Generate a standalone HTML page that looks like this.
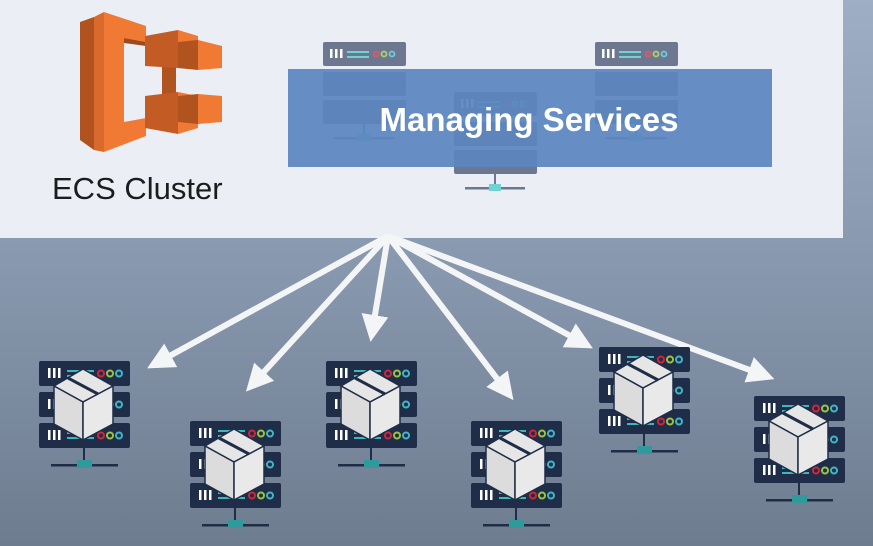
<!DOCTYPE html>
<html><head><style>
html,body{margin:0;padding:0}
body{width:873px;height:546px;overflow:hidden;background:linear-gradient(#9eaec4 0%,#8797ad 50%,#6e7c8f 100%);position:relative;font-family:"Liberation Sans",sans-serif}
</style></head><body>
<svg width="873" height="546" viewBox="0 0 873 546" xmlns="http://www.w3.org/2000/svg" style="position:absolute;left:0;top:0">
<defs>
<g id="srv">
  <g fill="#1f2d48">
    <rect x="0" y="0" width="91" height="25" rx="2"/>
    <rect x="0" y="31" width="91" height="25" rx="2"/>
    <rect x="0" y="62" width="91" height="25" rx="2"/>
  </g>
  <g id="rowdet">
    <g fill="#fff"><rect x="9" y="7" width="2.5" height="10"/><rect x="14" y="7" width="2.5" height="10"/><rect x="19" y="7" width="2.5" height="10"/></g>
    <rect x="28" y="9" width="27" height="2" fill="#3fb7b8"/><rect x="28" y="14" width="27" height="2" fill="#3fb7b8"/>
    <circle cx="62" cy="12.5" r="3" fill="none" stroke="#d5233a" stroke-width="2"/>
    <circle cx="71" cy="12.5" r="3" fill="none" stroke="#9bc53d" stroke-width="2"/>
    <circle cx="80" cy="12.5" r="3" fill="none" stroke="#3fb7c8" stroke-width="2"/>
  </g>
  <use href="#rowdet" y="31"/><use href="#rowdet" y="62"/>
  <rect x="44" y="87" width="2" height="17" fill="#1f2d48"/>
  <rect x="12" y="103" width="67" height="2.5" fill="#1f2d48"/>
  <rect x="38" y="99" width="15" height="8" fill="#2f9a9c"/>
  <g stroke="#1f2d48" stroke-width="1.5" stroke-linejoin="round">
    <polygon points="15,25 44,8 74,25 44,41" fill="#e6e6e6"/>
    <polygon points="15,25 44,41 44,79 15,63" fill="#dcdcdc"/>
    <polygon points="44,41 74,25 74,63 44,79" fill="#e9e9e9"/>
  </g>
  <line x1="29" y1="17" x2="59" y2="33" stroke="#1f2d48" stroke-width="3"/>
</g>
<g id="tsrv">
  <g fill="#6d7890">
    <rect x="0" y="0" width="83" height="24" rx="2"/>
    <rect x="0" y="30" width="83" height="24" rx="2"/>
    <rect x="0" y="58" width="83" height="24" rx="2"/>
  </g>
  <g fill="#fff"><rect x="7" y="7" width="2.5" height="9"/><rect x="12" y="7" width="2.5" height="9"/><rect x="17" y="7" width="2.5" height="9"/></g>
  <rect x="24" y="9" width="22" height="2" fill="#6fd3d3"/><rect x="24" y="14" width="22" height="2" fill="#6fd3d3"/>
  <circle cx="53" cy="12" r="2.5" fill="none" stroke="#e0566a" stroke-width="1.8"/>
  <circle cx="61" cy="12" r="2.5" fill="none" stroke="#a9d36a" stroke-width="1.8"/>
  <circle cx="69" cy="12" r="2.5" fill="none" stroke="#6fcbd8" stroke-width="1.8"/>
  <rect x="40" y="82" width="2" height="14" fill="#6d7890"/>
  <rect x="11" y="95" width="60" height="2.5" fill="#6d7890"/>
  <rect x="35" y="92" width="12" height="7" fill="#6fd3d3"/>
</g>
<marker id="ah" markerWidth="4.5" markerHeight="4.5" refX="3" refY="2.25" orient="auto" markerUnits="strokeWidth">
  <polygon points="0,0 4.5,2.25 0,4.5" fill="#f4f5f7"/>
</marker>
</defs>

<rect x="0" y="0" width="843" height="238" fill="#ebeef4"/>

<!-- ECS logo -->
<g>
  <polygon points="80,22 94,17 94,150 80,140" fill="#b0531f"/>
  <polygon points="94,17 104,12 104,152 94,150" fill="#d9692c"/>
  <polygon points="104,12 146,26 146,42 124,38 124,122 146,118 146,136 104,152" fill="#f07a34"/>
  <polygon points="124,38 146,42 146,46 124,43" fill="#a04a1c"/>
  <polygon points="162,66 176,66 176,96 162,96" fill="#b0531f"/>
  <polygon points="145,36 178,30 178,68 145,66" fill="#c35c24"/>
  <polygon points="178,30 198,36 198,66 178,68" fill="#f07a34"/>
  <polygon points="178,42 198,40 198,70 178,68" fill="#b0531f"/>
  <polygon points="198,40 222,46 222,68 198,70" fill="#f07a34"/>
  <polygon points="145,96 178,92 178,134 145,128" fill="#c35c24"/>
  <polygon points="178,92 198,96 198,128 178,134" fill="#f07a34"/>
  <polygon points="178,96 198,94 198,124 178,122" fill="#b0531f"/>
  <polygon points="198,94 222,96 222,122 198,124" fill="#f07a34"/>
</g>
<text x="52" y="199" font-size="31" fill="#1c1c1c" font-family="Liberation Sans,sans-serif">ECS Cluster</text>

<use href="#tsrv" x="323" y="42"/>
<use href="#tsrv" x="595" y="42"/>
<use href="#tsrv" x="454" y="92"/>
<rect x="288" y="69" width="484" height="98" fill="#5b86bf" opacity="0.93"/>
<text x="529" y="131" font-size="33" font-weight="bold" fill="#fff" text-anchor="middle" font-family="Liberation Sans,sans-serif">Managing Services</text>

<!-- arrows -->
<g stroke="#f4f5f7" stroke-width="6" marker-end="url(#ah)" stroke-linecap="butt">
  <line x1="388" y1="236" x2="155" y2="364"/>
  <line x1="388" y1="236" x2="252" y2="385"/>
  <line x1="388" y1="236" x2="372" y2="333"/>
  <line x1="388" y1="236" x2="508" y2="393"/>
  <line x1="388" y1="236" x2="585" y2="344"/>
  <line x1="388" y1="236" x2="766" y2="376"/>
</g>

<use href="#srv" x="39" y="361"/>
<use href="#srv" x="190" y="421"/>
<use href="#srv" x="326" y="361"/>
<use href="#srv" x="471" y="421"/>
<use href="#srv" x="599" y="347"/>
<use href="#srv" x="754" y="396"/>
</svg>
</body></html>
